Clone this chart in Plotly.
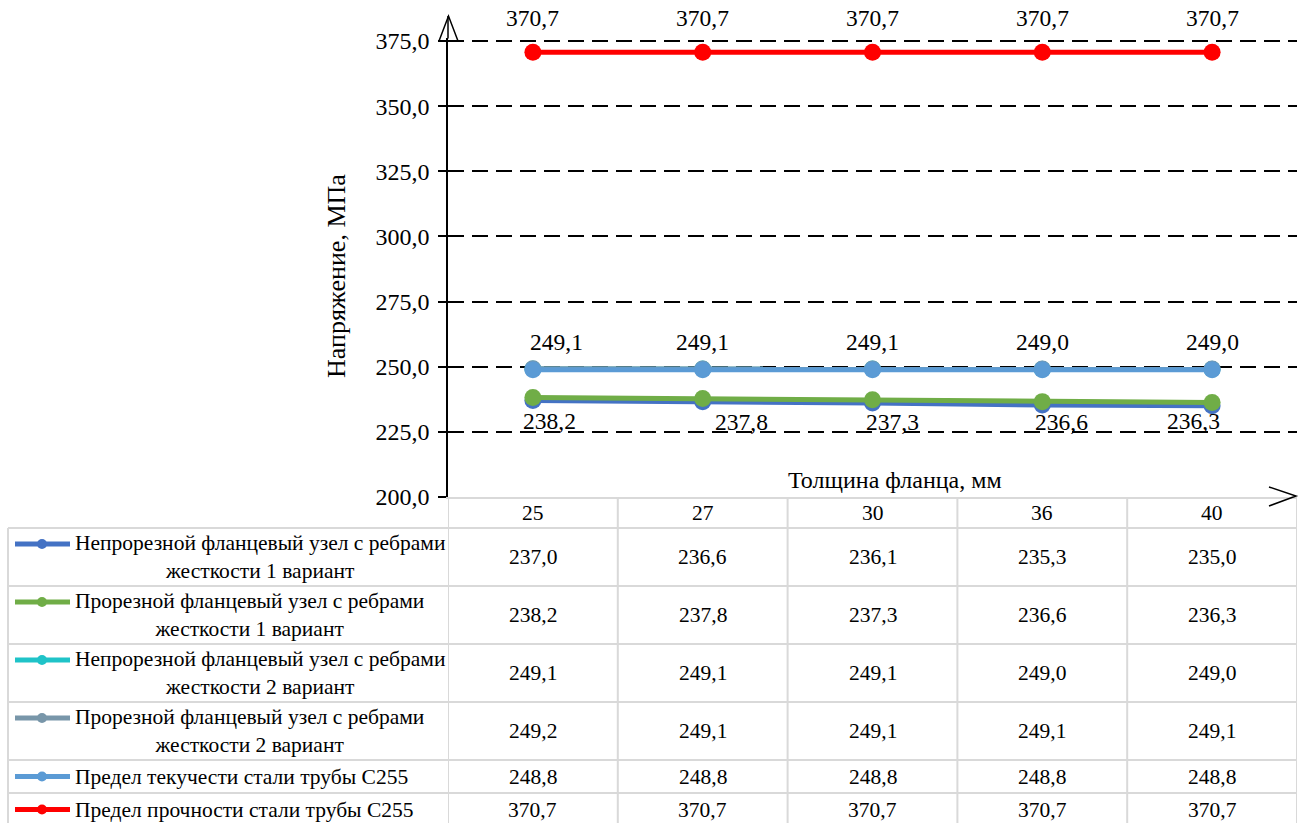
import plotly.graph_objects as go

# ---- data ----
thickness = ["25", "27", "30", "36", "40"]

series_names = [
    "Непрорезной фланцевый узел с ребрами<br>жесткости 1 вариант",
    "Прорезной фланцевый узел с ребрами<br>жесткости 1 вариант",
    "Непрорезной фланцевый узел с ребрами<br>жесткости 2 вариант",
    "Прорезной фланцевый узел с ребрами<br>жесткости 2 вариант",
    "Предел текучести стали трубы С255",
    "Предел прочности стали трубы С255",
]
solid_v1 = [237.0, 236.6, 236.1, 235.3, 235.0]
slotted_v1 = [238.2, 237.8, 237.3, 236.6, 236.3]
solid_v2 = [249.1, 249.1, 249.1, 249.0, 249.0]
slotted_v2 = [249.2, 249.1, 249.1, 249.1, 249.1]
yield_c255 = [248.8, 248.8, 248.8, 248.8, 248.8]
strength_c255 = [370.7, 370.7, 370.7, 370.7, 370.7]

series_values = [solid_v1, slotted_v1, solid_v2, slotted_v2, yield_c255, strength_c255]
colors = ["#4472C4", "#70AD47", "#1FC3C8", "#7896A9", "#5B9BD5", "#FF0000"]

y_title = "Напряжение, МПа"
x_title = "Толщина фланца, мм"

# ---- layout helpers (pixel -> paper) ----
W, H = 1304, 823
FONT = "Liberation Serif, Times New Roman, serif"

Y_MIN, Y_TOP_TICK, Y_MAX = 200, 375, 376
PLOT_BOTTOM, TOP_TICK_PX = 497, 41
px_per_unit = (PLOT_BOTTOM - TOP_TICK_PX) / (Y_TOP_TICK - Y_MIN)
PLOT_TOP = TOP_TICK_PX - (Y_MAX - Y_TOP_TICK) * px_per_unit


def px(x):
    return x / W


def py(y):
    return 1 - y / H


def fmt(v):
    return f"{v:.1f}".replace(".", ",")


fig = go.Figure()

for name, vals, col in zip(series_names, series_values, colors):
    fig.add_trace(go.Scatter(
        x=thickness, y=vals, mode="lines+markers", name=name.replace("<br>", " "),
        line=dict(color=col, width=5),
        marker=dict(color=col, size=17),
        showlegend=False, cliponaxis=False,
    ))

annotations = []
shapes = []

# data labels (category index used as x on the category axis)
label_specs = [
    (strength_c255, [0, 0, 0, 0, 0], [34, 34, 34, 34, 34]),
    (solid_v2, [24, 0, 0, 0, 0], [27, 27, 27, 27, 27]),
    (slotted_v1, [17, 39, 20, 19, -19], [-24, -23, -22, -20, -19]),
]
for vals, xs, ys in label_specs:
    for i, (v, dx, dy) in enumerate(zip(vals, xs, ys)):
        annotations.append(dict(
            x=i, y=v, xref="x", yref="y", text=fmt(v), showarrow=False,
            xanchor="center", yanchor="middle",
            xshift=dx, yshift=dy, font=dict(family=FONT, size=23.5, color="black"),
        ))

# axis titles
annotations.append(dict(
    x=px(336), y=py(276), xref="paper", yref="paper", text=y_title, textangle=-90,
    xanchor="center", yanchor="middle",
    showarrow=False, font=dict(family=FONT, size=26, color="black"),
))
annotations.append(dict(
    x=px(895), y=py(480), xref="paper", yref="paper", text=x_title,
    xanchor="center", yanchor="middle",
    showarrow=False, font=dict(family=FONT, size=24, color="black"),
))

# ---- data table ----
GRID = "#D9D9D9"
TFONT = dict(family=FONT, size=21.5, color="black")
header_top, header_bot = 497, 528
row_edges = [528, 586, 644, 702, 760, 793, 826]
left_edge = 8
n = len(thickness)

# header cells (categories)
for i, cat in enumerate(thickness):
    annotations.append(dict(
        x=i, y=py((header_top + header_bot) / 2), xref="x", yref="paper", text=cat,
        xanchor="center", yanchor="middle", showarrow=False, font=TFONT,
    ))

for r, (name, vals, col) in enumerate(zip(series_names, series_values, colors)):
    top, bot = row_edges[r], row_edges[r + 1]
    yc = (top + bot) / 2
    for i, v in enumerate(vals):
        annotations.append(dict(
            x=i, y=py(yc), xref="x", yref="paper", text=fmt(v),
            xanchor="center", yanchor="middle", showarrow=False, font=TFONT,
        ))
    annotations.append(dict(
        x=px(73), y=py(yc), xref="paper", yref="paper", text=name,
        xanchor="left", yanchor="middle", align="center", showarrow=False, font=TFONT,
    ))
    # legend key
    key_y = yc - 13 if "<br>" in name else yc
    shapes.append(dict(type="line", xref="paper", yref="paper",
                       x0=px(15), x1=px(70), y0=py(key_y), y1=py(key_y),
                       line=dict(color=col, width=5)))
    shapes.append(dict(type="circle", xref="paper", yref="paper",
                       x0=px(37), x1=px(47), y0=py(key_y - 5), y1=py(key_y + 5),
                       fillcolor=col, line=dict(color=col, width=0)))

# horizontal table lines
for y in row_edges:
    shapes.append(dict(type="line", xref="paper", yref="paper",
                       x0=px(left_edge), x1=px(1297), y0=py(y), y1=py(y),
                       line=dict(color=GRID, width=2)))
# vertical table lines
shapes.append(dict(type="line", xref="paper", yref="paper",
                   x0=px(left_edge), x1=px(left_edge), y0=py(row_edges[0]), y1=py(830),
                   line=dict(color=GRID, width=2)))
for k in range(n + 1):
    shapes.append(dict(type="line", xref="x", yref="paper",
                       x0=k - 0.5, x1=k - 0.5, y0=py(header_top), y1=py(830),
                       line=dict(color=GRID, width=2)))

# axis arrows
shapes.append(dict(type="line", xref="paper", yref="paper",
                   x0=px(448), x1=px(448), y0=py(PLOT_TOP), y1=py(16),
                   line=dict(color="black", width=1.5)))
shapes.append(dict(type="path", xref="paper", yref="paper",
                   path=f"M {px(439)} {py(41)} L {px(448.5)} {py(16)} L {px(458)} {py(41)}",
                   line=dict(color="black", width=1.5)))
shapes.append(dict(type="path", xref="paper", yref="paper",
                   path=f"M {px(1269)} {py(487)} L {px(1296)} {py(496)} L {px(1269)} {py(506)}",
                   line=dict(color="black", width=1.5)))

fig.update_layout(
    width=W, height=H,
    margin=dict(l=0, r=0, t=0, b=0, autoexpand=False),
    paper_bgcolor="white", plot_bgcolor="white",
    separators=", ",
    font=dict(family=FONT, color="black"),
    annotations=annotations,
    shapes=shapes,
    xaxis=dict(
        domain=[px(448), px(1297)], range=[-0.5, n - 0.5], type="category",
        showgrid=False, showticklabels=False, ticks="", automargin=False,
        showline=True, linecolor=GRID, linewidth=2, zeroline=False,
    ),
    yaxis=dict(
        domain=[py(PLOT_BOTTOM), py(PLOT_TOP)], range=[Y_MIN, Y_MAX], dtick=25, tick0=200,
        tickformat=".1f", showgrid=True, gridcolor="black", gridwidth=1.5,
        griddash="16px,8px", zeroline=False, automargin=False,
        showline=True, linecolor="black", linewidth=1.5,
        ticks="outside", ticklen=8, tickcolor="black", tickwidth=1.5,
        ticklabelstandoff=4,
        tickfont=dict(family=FONT, size=24, color="black"),
    ),
)

fig.write_html("out.html")
